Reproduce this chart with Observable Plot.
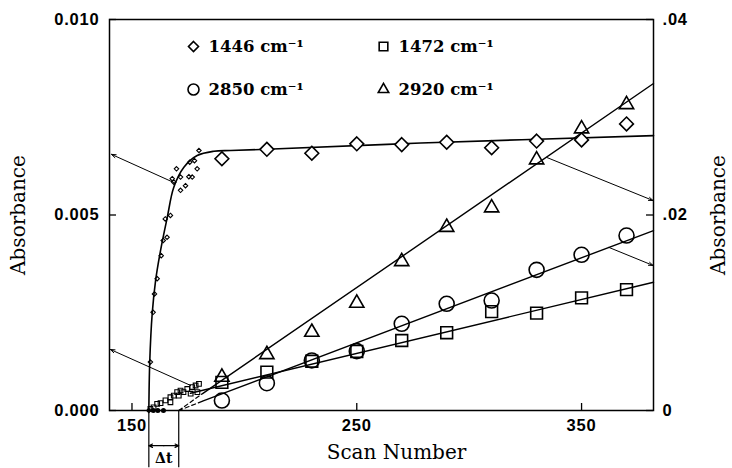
<!DOCTYPE html>
<html><head><meta charset="utf-8">
<script src="https://cdn.jsdelivr.net/npm/d3@7"></script>
<script src="https://cdn.jsdelivr.net/npm/@observablehq/plot@0.6"></script>
<style>
body{margin:0;background:#fff}
#chart svg g[aria-label$="tick label"] text{letter-spacing:0.8px}
</style>
</head><body><div id="chart"></div>
<script>
// Large-marker scans (every 20 scans)
const scans = [190,210,230,250,270,290,310,330,350,370];
// Left-axis series (Absorbance 0–0.010)
const abs1446 = [0.00644,0.00668,0.00658,0.00682,0.00680,0.00686,0.00672,0.00689,0.00692,0.00733];
const abs1472 = [0.00072,0.00098,0.00126,0.00151,0.00179,0.00199,0.00253,0.00249,0.00288,0.00309];
// Right-axis series (Absorbance 0–0.04)
const abs2850 = [0.00102,0.00279,0.00512,0.00607,0.00887,0.01092,0.01125,0.01439,0.01593,0.0179];
const abs2920 = [0.00341,0.00573,0.00801,0.01098,0.01524,0.01875,0.02074,0.02565,0.02882,0.0313];

// Early, densely sampled scans (small markers)
const early1446Scan = [157.5,158.2,159.4,160,161.2,163,163.9,164.8,165.6,167.1,167.9,168.6,169.8,171.6,171.6,173.8,175.3,175.7,176.8,177.8,179,179.8];
const early1446Abs  = [0,0.00124,0.00251,0.00298,0.00337,0.00396,0.00435,0.0049,0.00443,0.00499,0.00593,0.00584,0.00618,0.00597,0.00563,0.00575,0.00598,0.00635,0.00597,0.00639,0.00618,0.00665];
const early1472Scan = [158.2,159.6,161.2,162.7,164.9,167.1,168.6,170.1,171.6,172.9,174.6,176.8,178.3,179.8,167.1,170.8,176.1,179.1];
const early1472Abs  = [0.00004,0.00008,0.00017,0.00019,0.00026,0.00034,0.00038,0.00047,0.00051,0.00047,0.00055,0.0006,0.00064,0.00068,0.00021,0.00038,0.00043,0.00047];
const earlyDotScan = [159.5,161.5,164];
const earlyDotAbs  = [0,0,0];

// Fitted curve for 1446
const curve1446Scan = [157.5,157.9,159,160.5,162.7,165.7,168.6,173.1,179,186.4,193.9,209.9,278.5,382];
const curve1446Abs  = [0,0.00124,0.00248,0.00332,0.00409,0.00494,0.00571,0.00622,0.00652,0.00663,0.00665,0.00668,0.00684,0.00703];
// Linear fits (scan, absorbance in own-axis units)
const fit1472Scan = [176,382];   const fit1472Abs = [0.00044,0.00328];
const fit2850DashScan = [170.8,181.4]; const fit2850DashAbs = [0,0.00095];
const fit2850Scan = [181.4,382]; const fit2850Abs = [0.00095,0.01841];
const fit2920DashScan = [170.8,181.4]; const fit2920DashAbs = [0,0.00173];
const fit2920Scan = [181.4,382]; const fit2920Abs = [0.00173,0.03345];

// Pointer arrows (left-axis units)
const arrowX1 = [169.4,176.1,334.6,362.2];
const arrowY1 = [0.00581,0.00064,0.00647,0.00417];
const arrowX2 = [140.9,140.4,381.8,381.8];
const arrowY2 = [0.00655,0.00156,0.00537,0.00371];

// Δt bracket
const dtStart = 157.5, dtEnd = 170.8;
const dtDepth = -0.00145, dtArrowY = -0.0009;

// Ticks
const xTicks = [150,250,350];
const leftTicks = [0,0.005,0.010];
const leftTickLabels = ["0.000","0.005","0.010"];
const rightTicks = [0,0.02,0.04];
const rightTickLabels = ["0",".02",".04"];
const legendLabels = ["1446 cm\u207B\u00B9","1472 cm\u207B\u00B9","2850 cm\u207B\u00B9","2920 cm\u207B\u00B9"];

const R = 4; // right axis / left axis ratio
const pts = (xs, ys, k=1) => xs.map((x,i)=>({x, y: ys[i]/k}));

const tickFont = {fontFamily:"Liberation Sans", fontWeight:"bold", fontSize:16.5};
const legFont = {fontSize: 16.5, fontWeight:"bold", fontFamily:"DejaVu Serif", textAnchor:"start", lineAnchor:"middle"};
const ink = "black";

const chart = Plot.plot({
  width: 732, height: 468,
  marginLeft: 109, marginRight: 79, marginTop: 19, marginBottom: 58,
  x: {domain: [140, 382]},
  y: {domain: [0, 0.01]},
  style: {background: "white", color: ink, fontFamily: "DejaVu Serif"},
  marks: [
    Plot.frame({stroke: ink, strokeWidth: 1.5}),
    Plot.axisX(xTicks, {tickSize: 0, tickPadding: 9, label: null, ...tickFont}),
    Plot.axisY(leftTicks, {anchor:"left", tickSize: 0, tickPadding: 10, label: null, tickFormat: d => leftTickLabels[leftTicks.indexOf(d)], ...tickFont}),
    Plot.axisY(rightTicks.map(v=>v/R), {anchor:"right", tickSize: 0, tickPadding: 9, label: null, tickFormat: d => rightTickLabels[rightTicks.map(v=>v/R).indexOf(d)], ...tickFont}),
    Plot.tickX(xTicks, {x: d=>d, insetTop: 384, stroke: ink, strokeWidth: 1.3}),
    Plot.tickY(leftTicks, {y: d=>d, insetRight: 537, stroke: ink, strokeWidth: 1.3}),
    Plot.tickY(rightTicks.map(v=>v/R), {y: d=>d, insetLeft: 537, stroke: ink, strokeWidth: 1.3}),

    // fits
    Plot.line(pts(curve1446Scan, curve1446Abs), {x:"x", y:"y", curve:"catmull-rom", stroke: ink, strokeWidth: 1.6}),
    Plot.line(pts(fit1472Scan, fit1472Abs), {x:"x", y:"y", stroke: ink, strokeWidth: 1.4}),
    Plot.line(pts(fit2850Scan, fit2850Abs, R), {x:"x", y:"y", stroke: ink, strokeWidth: 1.4}),
    Plot.line(pts(fit2920Scan, fit2920Abs, R), {x:"x", y:"y", stroke: ink, strokeWidth: 1.4}),
    Plot.line(pts(fit2850DashScan, fit2850DashAbs, R), {x:"x", y:"y", stroke: ink, strokeWidth: 1.2, strokeDasharray: "4,3"}),
    Plot.line(pts(fit2920DashScan, fit2920DashAbs, R), {x:"x", y:"y", stroke: ink, strokeWidth: 1.2, strokeDasharray: "4,3"}),

    // arrows
    Plot.arrow(arrowX1.map((x,i)=>i), {x1: i=>arrowX1[i], y1: i=>arrowY1[i], x2: i=>arrowX2[i], y2: i=>arrowY2[i], stroke: ink, strokeWidth: 1, headLength: 7, headAngle: 40}),

    // Δt bracket
    Plot.link([dtStart, dtEnd], {x1: d=>d, x2: d=>d, y1: 0, y2: dtDepth, stroke: ink, strokeWidth: 1.2}),
    Plot.arrow([dtStart, dtEnd], {x1: (dtStart+dtEnd)/2, y1: dtArrowY, x2: d=>d, y2: dtArrowY, stroke: ink, strokeWidth: 1.2, headLength: 5, headAngle: 50}),
    Plot.text(["\u0394t"], {x: (dtStart+dtEnd)/2, frameAnchor:"bottom", dy: 43, lineAnchor:"top", fontSize: 14, fontFamily:"DejaVu Serif", fontWeight:"bold"}),

    // markers
    Plot.dot(pts(early1446Scan, early1446Abs), {x:"x", y:"y", symbol:"diamond2", r: 2, stroke: ink, strokeWidth: 1.1}),
    Plot.dot(pts(early1472Scan, early1472Abs), {x:"x", y:"y", symbol:"square2", r: 3, stroke: ink, strokeWidth: 1.1}),
    Plot.dot(pts(earlyDotScan, earlyDotAbs), {x:"x", y:"y", r: 2.5, fill: ink}),
    Plot.dot(pts(scans, abs1446), {x:"x", y:"y", symbol:"diamond2", r: 6.2, stroke: ink, strokeWidth: 1.6, fill:"white"}),
    Plot.dot(pts(scans, abs1472), {x:"x", y:"y", symbol:"square2", r: 7.5, stroke: ink, strokeWidth: 1.6}),
    Plot.dot(pts(scans, abs2850, R), {x:"x", y:"y", symbol:"circle", r: 7.5, stroke: ink, strokeWidth: 1.6}),
    Plot.dot(pts(scans, abs2920, R), {x:"x", y:"y", symbol:"triangle2", r: 6.8, stroke: ink, strokeWidth: 1.6}),

    // legend
    Plot.dot([0], {frameAnchor:"top-left", dx: 84, dy: 27, symbol:"diamond2", r: 4.5, stroke: ink, strokeWidth: 1.6}),
    Plot.dot([0], {frameAnchor:"top-left", dx: 274, dy: 27, symbol:"square2", r: 5.5, stroke: ink, strokeWidth: 1.6}),
    Plot.dot([0], {frameAnchor:"top-left", dx: 84, dy: 70, symbol:"circle", r: 5.5, stroke: ink, strokeWidth: 1.6}),
    Plot.dot([0], {frameAnchor:"top-left", dx: 274, dy: 70, symbol:"triangle2", r: 5, stroke: ink, strokeWidth: 1.6}),
    Plot.text([legendLabels[0]], {frameAnchor:"top-left", dx: 99, dy: 27, ...legFont}),
    Plot.text([legendLabels[1]], {frameAnchor:"top-left", dx: 289, dy: 27, ...legFont}),
    Plot.text([legendLabels[2]], {frameAnchor:"top-left", dx: 99, dy: 70, ...legFont}),
    Plot.text([legendLabels[3]], {frameAnchor:"top-left", dx: 289, dy: 70, ...legFont}),

    // axis titles
    Plot.text(["Absorbance"], {frameAnchor:"left", dx: -91, rotate: -90, textAnchor:"middle", lineAnchor:"middle", fontSize: 20, fontFamily:"DejaVu Serif"}),
    Plot.text(["Absorbance"], {frameAnchor:"right", dx: 65, rotate: -90, textAnchor:"middle", lineAnchor:"middle", fontSize: 20, fontFamily:"DejaVu Serif"}),
    Plot.text(["Scan Number"], {frameAnchor:"bottom", dy: 42, dx: 15, textAnchor:"middle", lineAnchor:"middle", fontSize: 20, fontFamily:"DejaVu Serif"})
  ]
});
document.getElementById("chart").append(chart);
</script>
</body></html>
